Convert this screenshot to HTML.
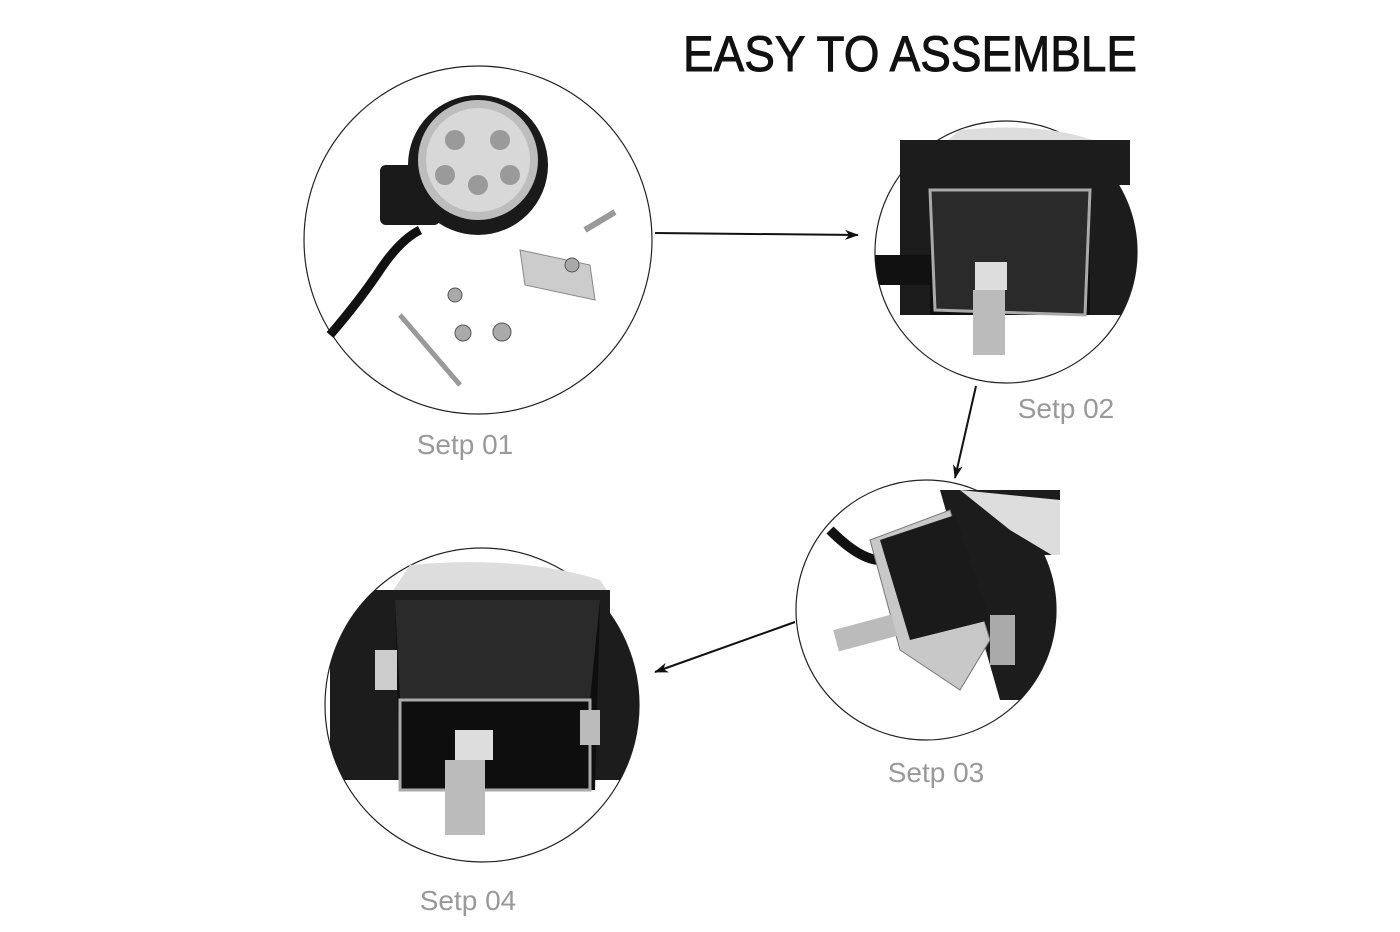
<!DOCTYPE html>
<html><head><style>
html,body{margin:0;padding:0;background:#fff;width:1400px;height:932px;overflow:hidden}
svg{display:block}
.t{font-family:"Liberation Sans",sans-serif}
</style></head><body>
<svg width="1400" height="932" viewBox="0 0 1400 932">
<defs>
<clipPath id="c2"><circle cx="1006" cy="252" r="131"/><rect x="900" y="125" width="230" height="60"/></clipPath>
<clipPath id="c3"><circle cx="926" cy="610" r="130"/><rect x="930" y="485" width="130" height="70"/></clipPath>
<clipPath id="c4"><circle cx="482" cy="705" r="157"/><rect x="390" y="555" width="220" height="60"/></clipPath>
<marker id="ah" markerWidth="14" markerHeight="10" refX="13" refY="5" orient="auto" markerUnits="userSpaceOnUse"><path d="M0,0 L14,5 L0,10 L4,5z" fill="#111"/></marker>
</defs>
<text x="683" y="71" class="t" font-size="50" fill="#111" stroke="#111" stroke-width="0.9" textLength="454" lengthAdjust="spacingAndGlyphs">EASY TO ASSEMBLE</text>

<!-- circle 1 -->
<circle cx="478" cy="240" r="174" fill="#fff" stroke="#222" stroke-width="1.2"/>
<path d="M330,335 Q360,300 380,270 Q400,240 420,230" stroke="#111" stroke-width="9" fill="none"/>
<rect x="380" y="165" width="60" height="60" rx="6" fill="#1a1a1a"/>
<circle cx="478" cy="165" r="70" fill="#1a1a1a"/>
<circle cx="478" cy="160" r="60" fill="#bdbdbd"/>
<circle cx="478" cy="160" r="52" fill="#d8d8d8"/>
<g fill="#9a9a9a"><circle cx="455" cy="140" r="10"/><circle cx="500" cy="140" r="10"/><circle cx="445" cy="175" r="10"/><circle cx="510" cy="175" r="10"/><circle cx="478" cy="185" r="10"/></g>
<path d="M520,250 L590,265 L595,300 L525,285z" fill="#ccc" stroke="#888"/>
<path d="M585,230 L615,212" stroke="#999" stroke-width="6"/>
<path d="M400,315 L460,385" stroke="#999" stroke-width="5"/>
<g fill="#aaa" stroke="#555"><circle cx="572" cy="265" r="7"/><circle cx="455" cy="295" r="7"/><circle cx="463" cy="333" r="8"/><circle cx="502" cy="332" r="9"/></g>
<text x="465" y="454" class="t" font-size="28" fill="#999" text-anchor="middle">Setp 01</text>

<!-- circle 2 -->
<circle cx="1006" cy="252" r="131" fill="#fff" stroke="#222" stroke-width="1.2"/>
<g clip-path="url(#c2)">
<path d="M960,130 Q1060,120 1115,150 L1140,180 L900,180z" fill="#ddd"/>
<rect x="900" y="140" width="240" height="175" fill="#1c1c1c"/>
<rect x="875" y="255" width="80" height="30" fill="#111"/>
<rect x="930" y="190" width="160" height="125" fill="#0e0e0e"/>
<path d="M930,190 L1090,190 L1085,315 L935,310z" fill="#2a2a2a" stroke="#aaa" stroke-width="3"/>
<rect x="975" y="262" width="32" height="28" fill="#ddd"/>
<rect x="973" y="290" width="32" height="65" fill="#bbb"/>
</g>
<text x="1066" y="418" class="t" font-size="28" fill="#999" text-anchor="middle">Setp 02</text>

<!-- circle 3 -->
<circle cx="926" cy="610" r="130" fill="#fff" stroke="#222" stroke-width="1.2"/>
<g clip-path="url(#c3)">
<path d="M940,490 L1060,490 L1060,700 L1000,700z" fill="#1c1c1c"/>
<path d="M960,490 L1060,500 L1060,560 L1010,530z" fill="#ddd"/>
<path d="M830,530 Q860,560 880,560" stroke="#111" stroke-width="10" fill="none"/>
<path d="M870,540 L950,510 L990,640 L960,690 L900,650z" fill="#c8c8c8" stroke="#777"/>
<path d="M880,540 L955,515 L990,620 L910,640z" fill="#1a1a1a"/>
<rect x="835" y="622" width="60" height="22" fill="#bbb" transform="rotate(-15 865 633)"/>
<rect x="990" y="615" width="25" height="50" fill="#aaa"/>
</g>
<text x="936" y="782" class="t" font-size="28" fill="#999" text-anchor="middle">Setp 03</text>

<!-- circle 4 -->
<circle cx="482" cy="705" r="157" fill="#fff" stroke="#222" stroke-width="1.2"/>
<g clip-path="url(#c4)">
<path d="M410,565 Q520,555 600,580 L620,610 L380,610z" fill="#ddd"/>
<rect x="330" y="590" width="310" height="190" fill="#1c1c1c"/>
<path d="M395,600 L600,600 L595,790 L400,790z" fill="#0e0e0e"/>
<path d="M395,600 L600,600 L590,700 L400,700z" fill="#2a2a2a"/>
<path d="M400,700 L590,700 L590,790 L400,790z" fill="none" stroke="#aaa" stroke-width="3"/>
<rect x="375" y="650" width="22" height="40" fill="#ccc"/>
<rect x="580" y="710" width="20" height="35" fill="#bbb"/>
<rect x="455" y="730" width="38" height="30" fill="#ddd"/>
<rect x="445" y="760" width="40" height="75" fill="#bbb"/>
</g>
<text x="468" y="910" class="t" font-size="28" fill="#999" text-anchor="middle">Setp 04</text>

<!-- arrows -->
<line x1="655" y1="233" x2="858" y2="235" stroke="#111" stroke-width="2" marker-end="url(#ah)"/>
<line x1="976" y1="386" x2="955" y2="478" stroke="#111" stroke-width="2" marker-end="url(#ah)"/>
<line x1="795" y1="622" x2="655" y2="672" stroke="#111" stroke-width="2" marker-end="url(#ah)"/>
</svg>
</body></html>
